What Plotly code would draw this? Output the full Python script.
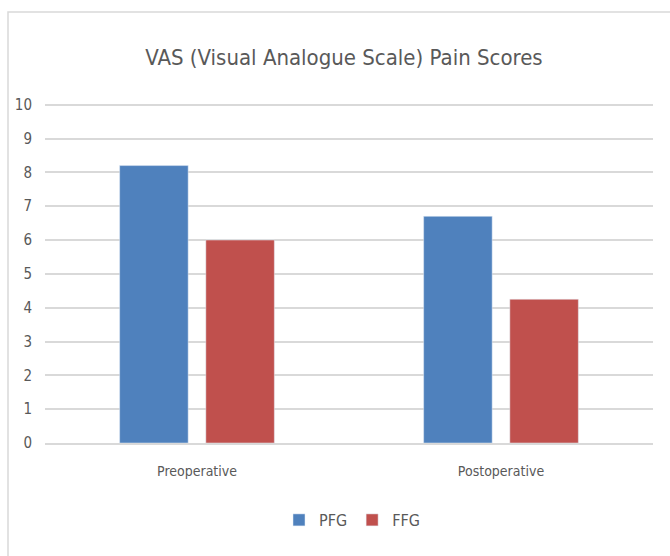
import plotly.graph_objects as go

categories = ["Preoperative", "Postoperative"]
pfg_values = [8.2, 6.7]
ffg_values = [6.0, 4.25]
y_ticks = list(range(0, 11))

W, H = 670, 556
y_top = 10.05
zero_px, ten_px = 443, 105
unit = (zero_px - ten_px) / 10
L, R = 45, 17
T = int(round(zero_px - unit * y_top))
B = H - zero_px
pw, ph = W - L - R, H - T - B

def px_x(px):
    return (px - L) / pw

def px_y(py):
    return (zero_px - py) / ph

fig = go.Figure()
fig.add_trace(go.Bar(name="PFG", x=categories, y=pfg_values, marker_color="#4F81BD"))
fig.add_trace(go.Bar(name="FFG", x=categories, y=ffg_values, marker_color="#C0504D"))

font_family = "DejaVu Sans Condensed, Open Sans, sans-serif"

fig.update_layout(
    width=W, height=H,
    margin=dict(l=L, r=R, t=T, b=B),
    paper_bgcolor="white", plot_bgcolor="white",
    barmode="group", bargap=0.433, bargroupgap=0.205,
    title=dict(text="VAS (Visual Analogue Scale) Pain Scores",
               x=px_x(344), xref="paper", xanchor="center",
               y=1 - 57 / H, yref="container", yanchor="middle",
               font=dict(family=font_family, size=22, color="#595959")),
    font=dict(family=font_family, color="#595959"),
    showlegend=True,
    legend=dict(orientation="h", x=px_x(352), xanchor="center", y=px_y(520), yanchor="middle",
                font=dict(size=16, color="#595959"), itemwidth=30, tracegroupgap=0),
    shapes=[dict(type="rect", xref="paper", yref="paper",
                 x0=px_x(8), x1=px_x(675), y0=px_y(565), y1=px_y(12),
                 line=dict(color="#D9D9D9", width=1.5), fillcolor="rgba(0,0,0,0)", layer="below")],
)
fig.update_yaxes(range=[0, y_top], tickvals=y_ticks, showgrid=True, gridcolor="#D9D9D9", gridwidth=1.5,
                 zeroline=False, showline=False, ticks="", tickfont=dict(size=15, color="#595959"),
                 ticklabelstandoff=12)
fig.update_xaxes(showgrid=False, showline=True, linecolor="#D9D9D9", linewidth=1.5, ticks="",
                 tickfont=dict(size=14, color="#595959"), ticklabelstandoff=14)

fig.write_html("out.html", config={"displayModeBar": False},
               post_script="document.body.style.margin='0';document.body.style.padding='0';")
